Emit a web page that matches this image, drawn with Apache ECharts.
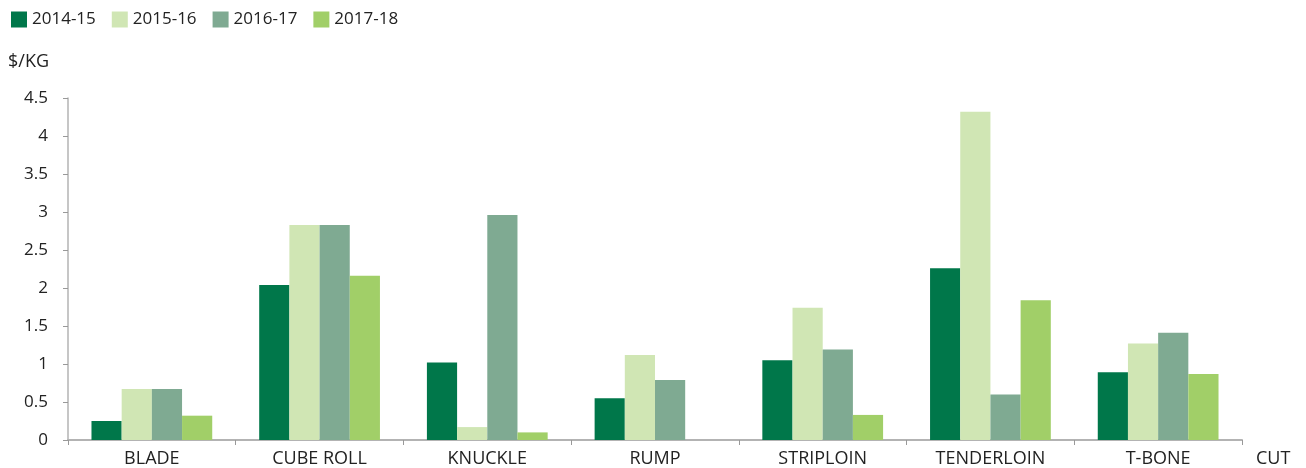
<!DOCTYPE html>
<html>
<head>
<meta charset="utf-8">
<script src="https://cdn.jsdelivr.net/npm/echarts@6/dist/echarts.min.js"></script>
<style>
  html, body { margin: 0; padding: 0; background: #fff; }
  #main { width: 1306px; height: 468px; }
</style>
</head>
<body>
<div id="main"></div>
<script>
var cuts = ["BLADE", "CUBE ROLL", "KNUCKLE", "RUMP", "STRIPLOIN", "TENDERLOIN", "T-BONE"];
var seriesNames = ["2014-15", "2015-16", "2016-17", "2017-18"];
var y2014 = [0.25, 2.04, 1.02, 0.55, 1.05, 2.26, 0.89];
var y2015 = [0.67, 2.83, 0.17, 1.12, 1.74, 4.32, 1.27];
var y2016 = [0.67, 2.83, 2.96, 0.79, 1.19, 0.60, 1.41];
var y2017 = [0.32, 2.16, 0.10, 0, 0.33, 1.84, 0.87];
var colors = ["#00774a", "#d0e6b4", "#7faa92", "#a1cf68"];

var font = "'Open Sans', Lato, sans-serif";
var myChart = echarts.init(document.getElementById("main"));

var allData = [y2014, y2015, y2016, y2017];
var series = [];
for (var i = 0; i < seriesNames.length; i++) {
  series.push({
    name: seriesNames[i],
    type: "bar",
    data: allData[i],
    barGap: 0,
    barCategoryGap: "28%",
    itemStyle: { color: colors[i] }
  });
}

var option = {
  animation: false,
  textStyle: { fontFamily: font },
  // y axis unit label, top left
  title: {
    text: "$/KG",
    left: 3,
    top: 48,
    textStyle: { fontFamily: font, fontSize: 18, fontWeight: "normal", color: "#222" }
  },
  legend: {
    data: seriesNames,
    left: 6,
    top: 6,
    itemWidth: 16,
    itemHeight: 16,
    itemGap: 16,
    icon: "rect",
    textStyle: { fontFamily: font, fontSize: 17, color: "#222" }
  },
  grid: { left: 68, right: 64, top: 98, bottom: 26, containLabel: false },
  xAxis: {
    type: "category",
    data: cuts,
    name: "CUT",
    nameLocation: "end",
    nameGap: 14,
    nameTextStyle: { fontFamily: font, fontSize: 18, color: "#222", verticalAlign: "top", padding: [10, 0, 0, 0] },
    axisLine: { lineStyle: { color: "#b3b3b3", width: 2 } },
    axisTick: { show: true, length: 5, lineStyle: { color: "#999" } },
    axisLabel: { fontFamily: font, fontSize: 18, color: "#222", margin: 10 }
  },
  yAxis: {
    type: "value",
    min: 0,
    max: 4.5,
    interval: 0.5,
    splitLine: { show: false },
    axisLine: { show: true, lineStyle: { color: "#b3b3b3", width: 1.5 } },
    axisTick: { show: true, length: 5, lineStyle: { color: "#999" } },
    axisLabel: { fontFamily: font, fontSize: 17, color: "#222", margin: 20 }
  },
  series: series
};

if (option && typeof option === "object") {
  myChart.setOption(option);
}
</script>
</body>
</html>
